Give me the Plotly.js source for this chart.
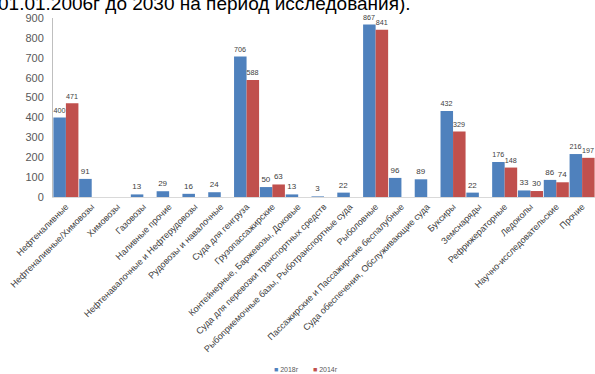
<!DOCTYPE html>
<html>
<head>
<meta charset="utf-8">
<script src="https://cdn.plot.ly/plotly-3.0.1.min.js"></script>
<style>html,body{margin:0;padding:0;background:#fff;}#chart{width:595px;height:374px;}</style>
</head>
<body>
<div id="chart"></div>
<script>
const categories = [
  "Нефтеналивные",
  "Нефтеналивные/Химовозы",
  "Химовозы",
  "Газовозы",
  "Наливные прочие",
  "Нефтенавалочные и Нефтерудовозы",
  "Рудовозы и навалочные",
  "Суда для генгруза",
  "Грузопассажирские",
  "Контейнерные, Баржевозы, Доковые",
  "Суда для перевозки транспортных средств",
  "Рыбоприемочные базы, Рыботранспортные суда",
  "Рыболовные",
  "Пассажирские и Пассажирские беспалубные",
  "Суда обеспечения, Обслуживающие суда",
  "Буксиры",
  "Земснаряды",
  "Рефрижераторные",
  "Ледоколы",
  "Научно-исследовательские",
  "Прочие"
];
const values2018 = [400, 91, null, 13, 29, 16, 24, 706, 50, 13, 3, 22, 867, 96, 89, 432, 22, 176, 33, 86, 216];
const values2014 = [471, null, null, null, null, null, null, 588, 63, null, null, null, 841, null, null, 329, null, 148, 30, 74, 197];
const seriesNames = ["2018г", "2014г"];
const seriesColors = ["#4F81BD", "#C0504D"];
const yTicks = [0, 100, 200, 300, 400, 500, 600, 700, 800, 900];

const FAM = "Liberation Sans, Arial, sans-serif";
const labelFont = {family: FAM, size: 8, color: "#404040"};
function txt(arr){ return arr.map(v => v === null ? "" : String(v)); }

const data = [
  {type: "bar", name: seriesNames[0], x: categories, y: values2018, text: txt(values2018),
   textposition: "outside", textfont: labelFont, cliponaxis: false,
   marker: {color: seriesColors[0]}, hoverinfo: "skip"},
  {type: "bar", name: seriesNames[1], x: categories, y: values2014, text: txt(values2014),
   textposition: "outside", textfont: labelFont, cliponaxis: false,
   marker: {color: seriesColors[1]}, hoverinfo: "skip"}
];

const legendAnn = seriesNames.map((n, i) => ({
  text: '<span style="color:' + seriesColors[i] + '">■</span> ' + n,
  xref: "paper", yref: "paper",
  x: (272 + i * 39 - 53) / 542, y: (197 - 369) / 179,
  xanchor: "left", yanchor: "middle", showarrow: false,
  font: {family: FAM, size: 7, color: "#595959"}
}));

const layout = {
  width: 595, height: 374,
  margin: {l: 53, r: 0, t: 18, b: 177},
  paper_bgcolor: "#fff", plot_bgcolor: "#fff",
  barmode: "group", bargap: 0.03, bargroupgap: 0,
  showlegend: false,
  font: {family: FAM},
  xaxis: {type: "category", tickangle: -45, showline: true, linecolor: "#d9d9d9", linewidth: 1,
          ticks: "", showgrid: false, automargin: false,
          tickfont: {family: FAM, size: 9, color: "#404040"}},
  yaxis: {range: [0, 900], tickvals: yTicks, showline: true, linecolor: "#bfbfbf", linewidth: 1,
          ticks: "", showgrid: false, zeroline: false, automargin: false, ticklabelstandoff: 6,
          tickfont: {family: FAM, size: 11, color: "#595959"}},
  annotations: [{
    text: "01.01.2006г до 2030 на период исследования).",
    xref: "paper", yref: "paper", x: -0.105, y: 1.082, xanchor: "left", yanchor: "middle",
    showarrow: false, font: {family: FAM, size: 19, color: "#000"}
  }].concat(legendAnn)
};

Plotly.newPlot("chart", data, layout, {displayModeBar: false, staticPlot: true});
</script>
</body>
</html>
